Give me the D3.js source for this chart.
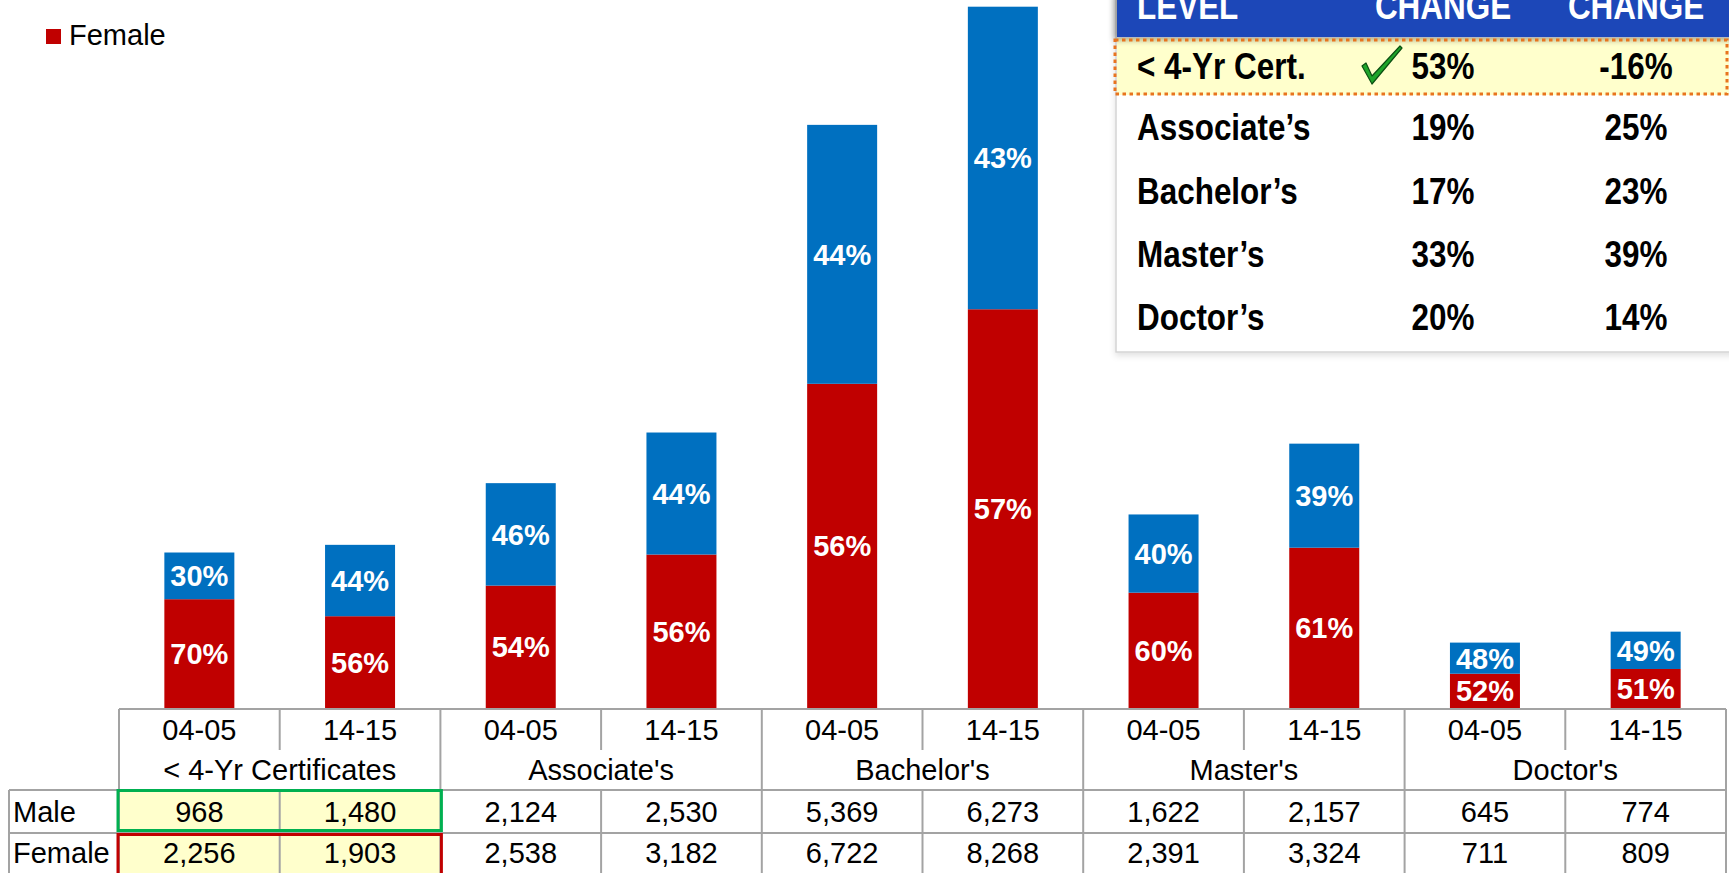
<!DOCTYPE html>
<html>
<head>
<meta charset="utf-8">
<script src="https://cdn.jsdelivr.net/npm/d3@7"></script>
<style>
  body { margin: 0; background: #fff; }
  svg { display: block; }
  .tbl text { font-family: "Liberation Sans", Arial, sans-serif; font-size: 29px; fill: #000; }
  .lbl { font-family: "Liberation Sans", Arial, sans-serif; font-size: 29px; font-weight: bold; fill: #fff; }
  .inset text { font-family: "Liberation Sans", Arial, sans-serif; font-weight: bold; font-size: 37px; }
</style>
</head>
<body>
<svg id="chart" width="1729" height="873"></svg>
<script>

// degrees conferred, by level and year
var groups = ["< 4-Yr Certificates", "Associate's", "Bachelor's", "Master's", "Doctor's"];
var years = ["04-05", "14-15"];
var male   = [968, 1480, 2124, 2530, 5369, 6273, 1622, 2157, 645, 774];
var female = [2256, 1903, 2538, 3182, 6722, 8268, 2391, 3324, 711, 809];

// inset table
var insetHead = ["LEVEL", "CHANGE", "CHANGE"];
var levels = ["< 4-Yr Cert.", "Associate\u2019s", "Bachelor\u2019s", "Master\u2019s", "Doctor\u2019s"];
var changeA = ["53%", "19%", "17%", "33%", "20%"];
var changeB = ["-16%", "25%", "23%", "39%", "14%"];

var RED = "#C00000", BLUE = "#0070C0", GRID = "#a3a3a3";

var svg = d3.select("svg#chart");

var cols = d3.range(male.length);
var x = d3.scaleBand().domain(cols).range([119, 1726]).padding(0);
var bw = x.bandwidth();
var barW = 70;

var base = 708;
var y = d3.scaleLinear().domain([0, 14541]).range([base, 6.7]);

var fmt = d3.format(".0%");

// ---- bars ----
var bars = svg.append("g").attr("class", "bars");

var stack = cols.map(function(i) {
  var t = male[i] + female[i];
  return [
    {i: i, y0: 0, y1: female[i], p: female[i] / t, c: RED},
    {i: i, y0: female[i], y1: t, p: male[i] / t, c: BLUE}
  ];
});
var segs = [].concat.apply([], stack);

bars.selectAll("rect")
  .data(segs)
  .enter().append("rect")
  .attr("x", function(d) { return x(d.i) + bw / 2 - barW / 2; })
  .attr("y", function(d) { return y(d.y1); })
  .attr("width", barW)
  .attr("height", function(d) { return y(d.y0) - y(d.y1); })
  .attr("fill", function(d) { return d.c; });

bars.selectAll("text")
  .data(segs)
  .enter().append("text")
  .attr("class", "lbl")
  .attr("x", function(d) { return x(d.i) + bw / 2; })
  .attr("y", function(d) { return (y(d.y0) + y(d.y1)) / 2; })
  .attr("dy", "0.36em")
  .attr("text-anchor", "middle")
  .text(function(d) { return fmt(d.p); });

// ---- legend ----
svg.append("rect").attr("x", 46).attr("y", 29).attr("width", 15).attr("height", 15).attr("fill", RED);
svg.append("text").attr("x", 69).attr("y", 45)
  .style("font-family", "Liberation Sans, Arial, sans-serif").style("font-size", "29px")
  .text("Female");

// ---- data table ----
var tbl = svg.append("g").attr("class", "tbl");
var r0 = 709, r1 = 750, r2 = 790, r3 = 833, r4 = 873;
var left = 9;

// highlight fills
tbl.append("rect").attr("x", x(0)).attr("y", r2).attr("width", bw * 2).attr("height", r3 - r2).attr("fill", "#FFFFCC");
tbl.append("rect").attr("x", x(0)).attr("y", r3).attr("width", bw * 2).attr("height", r4 - r3).attr("fill", "#FFFFCC");

var edges = d3.range(cols.length + 1).map(function(k) { return 119 + bw * k; });

function hline(x1, x2, yy) {
  tbl.append("line").attr("x1", x1).attr("x2", x2).attr("y1", yy).attr("y2", yy)
    .attr("stroke", GRID).attr("stroke-width", 2);
}
function vline(xx, y1, y2) {
  tbl.append("line").attr("x1", xx).attr("x2", xx).attr("y1", y1).attr("y2", y2)
    .attr("stroke", GRID).attr("stroke-width", 2);
}

hline(119, 1726, r0);
hline(left, 1726, r2);
hline(left, 1726, r3);
vline(left, r2, r4);
edges.forEach(function(e, k) {
  vline(e, r0, r1);
  if (k % 2 == 0) vline(e, r1, r2);
  vline(e, r2, r4);
});

// year labels
tbl.selectAll("text.yr")
  .data(cols)
  .enter().append("text")
  .attr("class", "yr")
  .attr("x", function(i) { return x(i) + bw / 2; })
  .attr("y", (r0 + r1) / 2)
  .attr("dy", "0.36em")
  .attr("text-anchor", "middle")
  .text(function(i) { return years[i % 2]; });

tbl.selectAll("text.grp")
  .data(groups)
  .enter().append("text")
  .attr("class", "grp")
  .attr("x", function(d, g) { return x(g * 2) + bw; })
  .attr("y", (r1 + r2) / 2)
  .attr("dy", "0.36em")
  .attr("text-anchor", "middle")
  .text(function(d) { return d; });

var comma = d3.format(",");
[[male, "Male", r2, r3], [female, "Female", r3, r4]].forEach(function(row) {
  var cy = (row[2] + row[3]) / 2;
  tbl.append("text").attr("x", 13).attr("y", cy).attr("dy", "0.36em").text(row[1]);
  tbl.selectAll("text.v" + row[1])
    .data(row[0])
    .enter().append("text")
    .attr("x", function(d, i) { return x(i) + bw / 2; })
    .attr("y", cy)
    .attr("dy", "0.36em")
    .attr("text-anchor", "middle")
    .text(function(d) { return comma(d); });
});

// highlight boxes
tbl.append("rect").attr("x", x(0) - 1).attr("y", r2 + 0.5).attr("width", bw * 2 + 2).attr("height", r3 - r2 - 3)
  .attr("fill", "none").attr("stroke", "#00B050").attr("stroke-width", 3);
tbl.append("rect").attr("x", x(0) - 1).attr("y", r3 + 1.5).attr("width", bw * 2 + 2).attr("height", r4 - r3)
  .attr("fill", "none").attr("stroke", RED).attr("stroke-width", 3);

// ---- inset table ----
var defs = svg.append("defs");
var sh = defs.append("filter").attr("id", "shadow").attr("x", "-10%").attr("y", "-10%").attr("width", "130%").attr("height", "140%");
sh.append("feDropShadow").attr("dx", -3).attr("dy", 3).attr("stdDeviation", 3).attr("flood-color", "#000").attr("flood-opacity", 0.35);
var sh2 = defs.append("filter").attr("id", "shadow2").attr("x", "-5%").attr("y", "-5%").attr("width", "110%").attr("height", "110%");
sh2.append("feDropShadow").attr("dx", 0).attr("dy", 3).attr("stdDeviation", 3).attr("flood-color", "#000").attr("flood-opacity", 0.12);

var inset = svg.append("g").attr("class", "inset");
var ix = 1116;
inset.append("rect").attr("x", ix).attr("y", -5).attr("width", 640).attr("height", 357)
  .attr("fill", "#fff").attr("stroke", "#d4d4d4").attr("stroke-width", 1.5).attr("filter", "url(#shadow2)");

inset.append("rect").attr("x", ix + 1).attr("y", 38).attr("width", 620).attr("height", 57).attr("fill", "#FFFFCC");
inset.append("rect").attr("x", ix + 1).attr("y", -10).attr("width", 640).attr("height", 47)
  .attr("fill", "#1E46B8").attr("filter", "url(#shadow)");

// narrow bold face: Liberation Sans Bold squeezed horizontally
var narrow = 0.85;
function ntext(sel, tx, ty, anchor, str, fill) {
  return sel.append("text")
    .attr("transform", "translate(" + tx + "," + ty + ") scale(" + narrow + ",1)")
    .attr("dy", "0.36em")
    .attr("text-anchor", anchor)
    .attr("fill", fill || "#000")
    .text(str);
}

var colX = [1137, 1443, 1636];
insetHead.forEach(function(h, i) {
  ntext(inset, colX[i], 19, i == 0 ? "start" : "middle", h, "#fff").attr("dy", null);
});

var rowY = function(i) { return i == 0 ? 66 : 64 + i * 63.1; };
levels.forEach(function(lv, i) {
  ntext(inset, colX[0], rowY(i), "start", lv);
  ntext(inset, colX[1], rowY(i), "middle", changeA[i]);
  ntext(inset, colX[2], rowY(i), "middle", changeB[i]);
});

// dotted highlight round the first row
inset.append("rect").attr("x", 1115).attr("y", 40).attr("width", 612).attr("height", 54)
  .attr("fill", "none").attr("stroke", "#E8741E").attr("stroke-width", 3).attr("stroke-dasharray", "3.5,3.5");

// check mark
inset.append("path")
  .attr("d", "M1362,66 L1366,63 L1372,76 L1400,46 L1402,48 L1372,84 Z")
  .attr("fill", "#1FA52A").attr("stroke", "#0B4F12").attr("stroke-width", 1.2).attr("stroke-linejoin", "round");

</script>
</body>
</html>
